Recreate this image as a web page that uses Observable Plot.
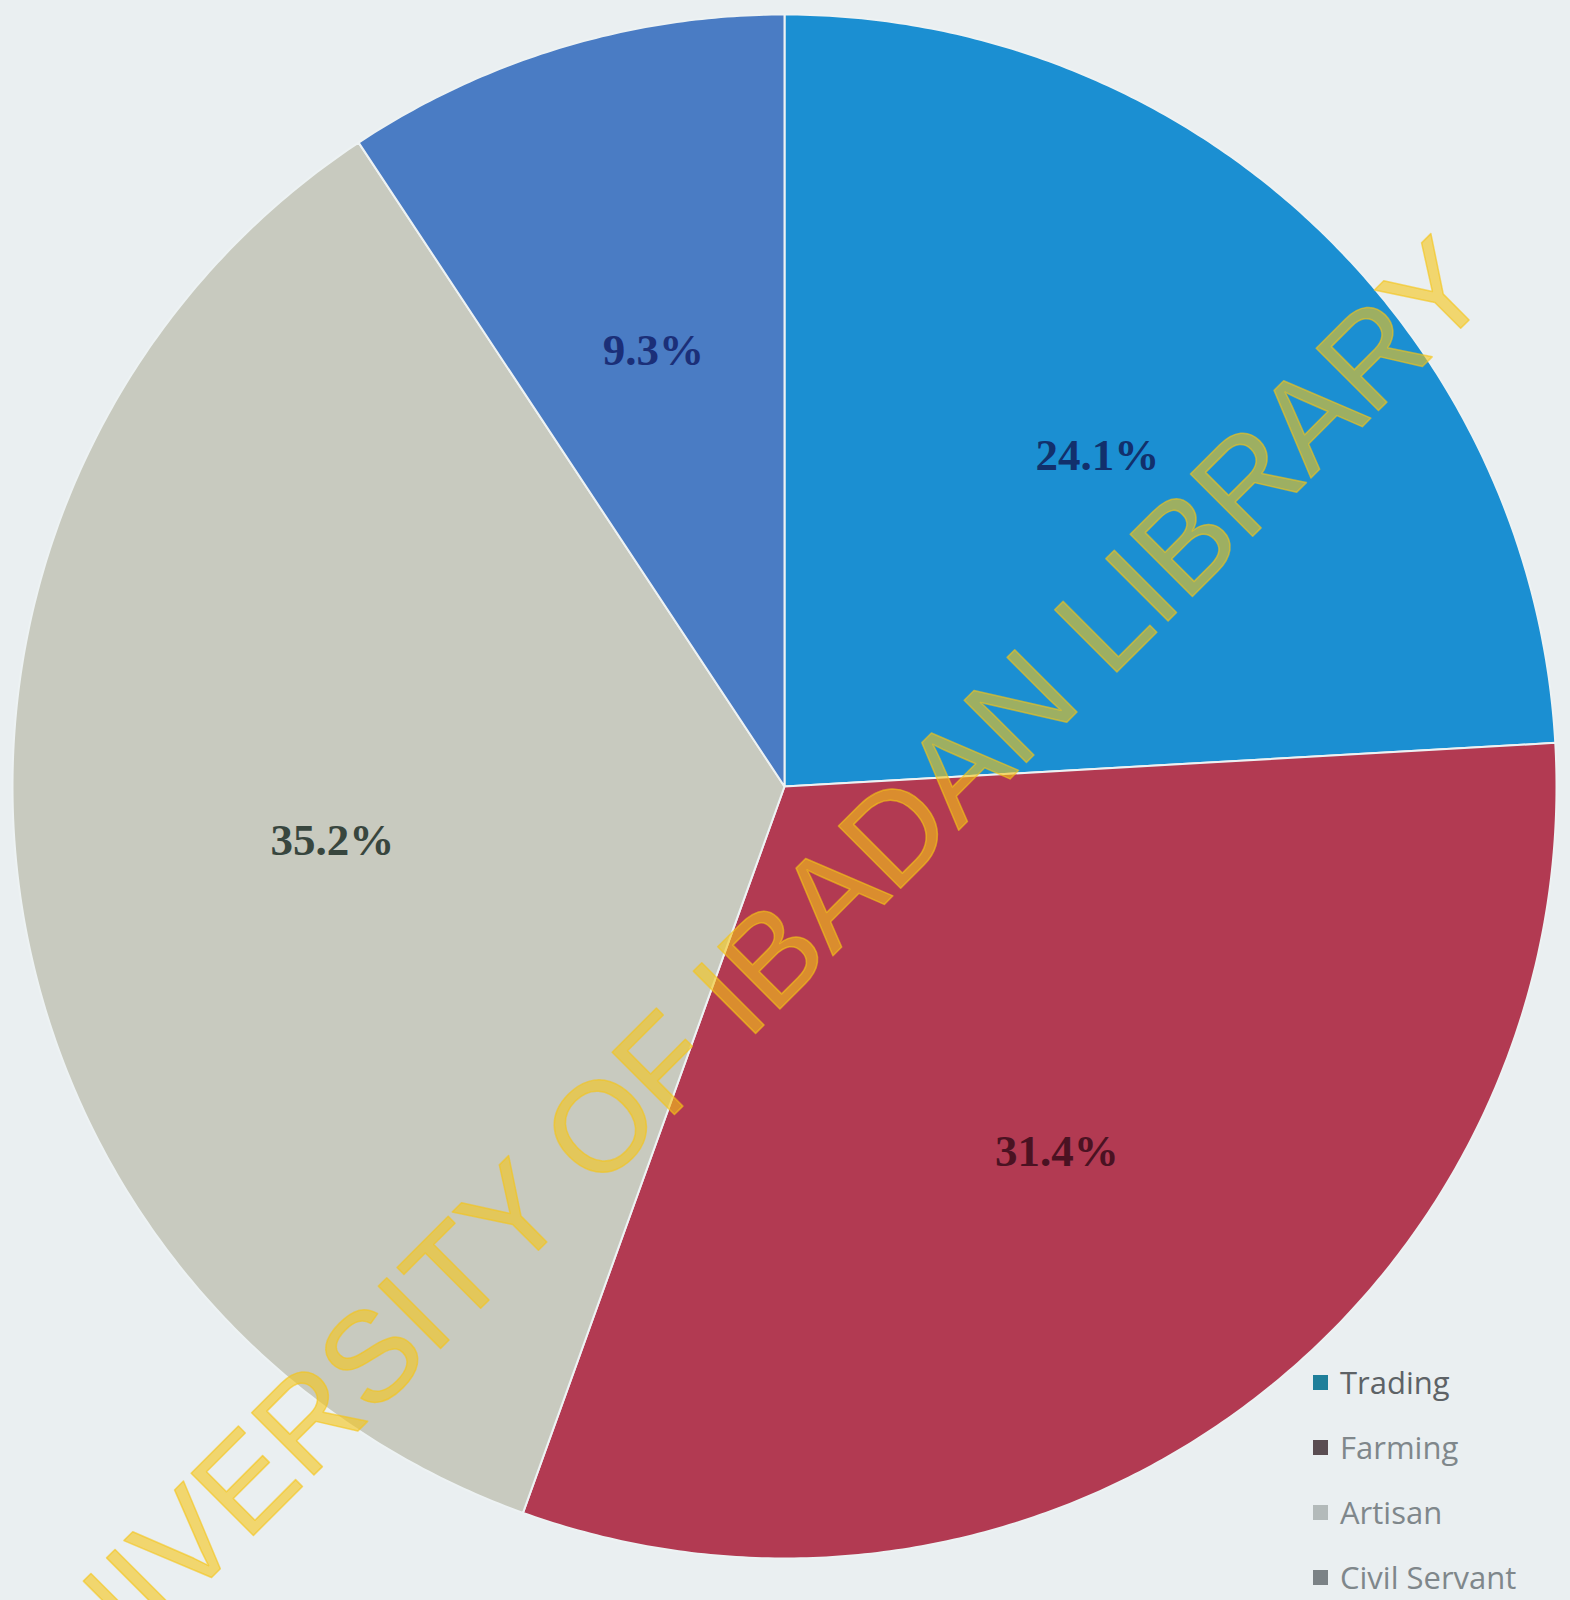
<!DOCTYPE html>
<html>
<head>
<meta charset="utf-8">
<script src="https://cdn.jsdelivr.net/npm/d3@7"></script>
<script src="https://cdn.jsdelivr.net/npm/@observablehq/plot@0.6"></script>
<style>
  html, body { margin: 0; padding: 0; background: #eaeff1; overflow: hidden; }
  #wrap { position: relative; width: 1570px; height: 1600px; }
  #legend { position: absolute; left: 1313px; top: 1350px; font-family: "Open Sans", sans-serif; font-size: 31px; }
  .row { height: 65px; line-height: 65px; display: flex; align-items: center; white-space: nowrap; }
  .sw { width: 15px; height: 15px; margin-right: 12px; display: inline-block; }
</style>
</head>
<body>
<div id="wrap"><div id="legend"></div></div>
<script>
const categories = ["Trading", "Farming", "Artisan", "Civil Servant"];
const values = [24.1, 31.4, 35.2, 9.3];
const labels = ["24.1%", "31.4%", "35.2%", "9.3%"];
const sliceColors = ["#1b8fd2", "#b23a52", "#c8cabf", "#4a7cc4"];
const labelColors = ["#12306c", "#4a1222", "#38463e", "#1b2f78"];
const legendSwatch = ["#1f7f9a", "#5a4d52", "#b3baba", "#7b8286"];
const legendText = ["#5d6266", "#7f878b", "#7f878b", "#7f878b"];
const watermark = "UNIVERSITY OF IBADAN LIBRARY";

const W = 1570, H = 1600, cx = 784, cy = 786, R = 772;

const arcs = d3.pie().sort(null).value(d => d)(values);
const pts = [];
arcs.forEach((a, i) => {
  pts.push({cat: categories[i], x: 0, y: 0});
  const n = Math.max(8, Math.ceil((a.endAngle - a.startAngle) * 120));
  for (let k = 0; k <= n; k++) {
    const t = a.startAngle + (a.endAngle - a.startAngle) * k / n;
    pts.push({cat: categories[i], x: Math.sin(t), y: Math.cos(t)});
  }
  pts.push({cat: categories[i], x: 0, y: 0});
});
const lab = arcs.map((a, i) => {
  const m = (a.startAngle + a.endAngle) / 2;
  return {label: labels[i], x: 0.59 * Math.sin(m), y: 0.59 * Math.cos(m), c: labelColors[i]};
});

const chart = Plot.plot({
  width: W, height: H, margin: 0,
  style: {background: "#eaeff1"},
  x: {domain: [-cx / R, (W - cx) / R], axis: null},
  y: {domain: [-(H - cy) / R, cy / R], axis: null},
  color: {domain: categories, range: sliceColors},
  marks: [
    Plot.line(pts, {x: "x", y: "y", z: "cat", fill: "cat", stroke: "#edf2f3", strokeWidth: 2, curve: "linear"}),
    Plot.text(lab, {x: "x", y: "y", text: "label", fill: "c", fontSize: 45, fontWeight: "bold", fontFamily: "Liberation Serif, Times New Roman, serif"}),
    Plot.text([watermark], {frameAnchor: "middle", dx: -52, dy: 197, rotate: -45, fontSize: 128, fill: "#f5c518", fillOpacity: 0.6, stroke: "#f5c518", strokeOpacity: 0.6, strokeWidth: 1.5, fontFamily: "Liberation Sans, Arial, sans-serif"})
  ]
});
document.getElementById("wrap").prepend(chart);

const legend = document.getElementById("legend");
categories.forEach((c, i) => {
  const row = document.createElement("div");
  row.className = "row";
  row.style.color = legendText[i];
  const sw = document.createElement("span");
  sw.className = "sw";
  sw.style.background = legendSwatch[i];
  row.appendChild(sw);
  row.appendChild(document.createTextNode(c));
  legend.appendChild(row);
});
</script>
</body>
</html>
